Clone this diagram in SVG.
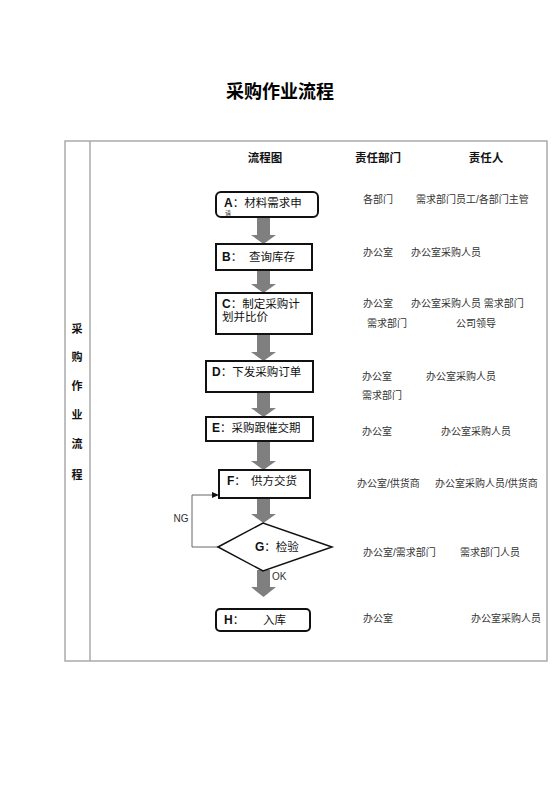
<svg xmlns="http://www.w3.org/2000/svg" width="560" height="792" viewBox="0 0 560 792">
<style>
.t{font-family:"Liberation Sans","Noto Sans CJK SC",sans-serif;}
.title{font-size:18px;font-weight:bold;fill:#000;}
.hd{font-size:11.5px;font-weight:bold;fill:#111;}
.side{font-size:11px;font-weight:bold;fill:#111;}
.bx{font-size:11.5px;fill:#111;}
.bl{font-weight:bold;}
.col{font-size:10px;fill:#333;}
.lbl{font-size:10px;fill:#333;}
.box{fill:#fff;stroke:#111;stroke-width:2;}
.arr{fill:#7f7f7f;}
</style>
<rect width="560" height="792" fill="#fff"/>
<text class="t title" x="280" y="98" text-anchor="middle">采购作业流程</text>
<g id="frame" fill="none" stroke="#aaa" stroke-width="1.5">
<rect x="65" y="141" width="482" height="520"/>
<line x1="90" y1="141" x2="90" y2="661"/>
</g>
<g id="headers">
<text class="t hd" x="265" y="162" text-anchor="middle">流程图</text>
<text class="t hd" x="378" y="162" text-anchor="middle">责任部门</text>
<text class="t hd" x="486" y="162" text-anchor="middle">责任人</text>
</g>
<g id="side" class="t side" text-anchor="middle">
<text x="77" y="333">采</text>
<text x="77" y="361">购</text>
<text x="77" y="390">作</text>
<text x="77" y="419">业</text>
<text x="77" y="448">流</text>
<text x="77" y="479">程</text>
</g>
<g id="connectors">
<path class="arr" d="M257,217 H270 V235 H276 L263.5,244 L251,235 H257 Z"/>
<path class="arr" d="M257,270 H270 V284 H276 L263.5,293 L251,284 H257 Z"/>
<path class="arr" d="M257,334 H270 V352 H276 L263.5,361 L251,352 H257 Z"/>
<path class="arr" d="M257,392 H270 V408 H276 L263.5,417 L251,408 H257 Z"/>
<path class="arr" d="M257,441 H270 V461 H276 L263.5,470 L251,461 H257 Z"/>
<path class="arr" d="M257,498 H270 V514 H276 L263.5,523 L251,514 H257 Z"/>
<path class="arr" d="M257,570 H270 V587 H276 L263.5,597 L251,587 H257 Z"/>
<path d="M218,547 H192 V495 H213" fill="none" stroke="#666" stroke-width="1"/>
<path d="M219,495 L212,492 L212,498 Z" fill="#111"/>
<text class="t lbl" x="181" y="522" text-anchor="middle">NG</text>
<text class="t lbl" x="272" y="580">OK</text>
</g>
<g id="nodeA">
<rect class="box" x="216" y="192" width="102" height="25" rx="5"/>
<text class="t bx" x="224" y="207"><tspan class="bl" font-size="12">A</tspan>：材料需求申</text>
<text class="t" x="225" y="215" font-size="6" fill="#111">请</text>
</g>
<g id="nodeB">
<rect class="box" x="216" y="244" width="96" height="26"/>
<text class="t bx" x="222" y="261"><tspan class="bl" font-size="12">B</tspan>：</text>
<text class="t bx" x="249" y="261">查询库存</text>
</g>
<g id="nodeC">
<rect class="box" x="216" y="293" width="96" height="41"/>
<text class="t bx" x="222" y="308"><tspan class="bl" font-size="12">C</tspan>：制定采购计</text>
<text class="t bx" x="222" y="321">划并比价</text>
</g>
<g id="nodeD">
<rect class="box" x="206" y="361" width="107" height="31"/>
<text class="t bx" x="212" y="376"><tspan class="bl" font-size="12">D</tspan>：下发采购订单</text>
</g>
<g id="nodeE">
<rect class="box" x="206" y="417" width="107" height="24"/>
<text class="t bx" x="212" y="432"><tspan class="bl" font-size="12">E</tspan>：采购跟催交期</text>
</g>
<g id="nodeF">
<rect class="box" x="219" y="470" width="91" height="28"/>
<text class="t bx" x="227" y="485"><tspan class="bl" font-size="12">F</tspan>：</text>
<text class="t bx" x="251" y="485">供方交货</text>
</g>
<g id="nodeG">
<polygon points="218,547 263,523 332,547 263,571" fill="#fff" stroke="#111" stroke-width="1.5"/>
<text class="t bx" x="255" y="551"><tspan class="bl" font-size="12">G</tspan>：检验</text>
</g>
<g id="nodeH">
<rect class="box" x="216" y="609" width="94" height="22" rx="4"/>
<text class="t bx" x="224" y="624"><tspan class="bl" font-size="12">H</tspan>：</text>
<text class="t bx" x="263" y="624">入库</text>
</g>
<g id="columns" class="t col">
<text x="363" y="203">各部门</text>
<text x="416" y="203">需求部门员工/各部门主管</text>
<text x="363" y="256">办公室</text>
<text x="411" y="256">办公室采购人员</text>
<text x="363" y="307">办公室</text>
<text x="411" y="307">办公室采购人员 需求部门</text>
<text x="367" y="327">需求部门</text>
<text x="456" y="327">公司领导</text>
<text x="362" y="380">办公室</text>
<text x="426" y="380">办公室采购人员</text>
<text x="362" y="399">需求部门</text>
<text x="362" y="435">办公室</text>
<text x="441" y="435">办公室采购人员</text>
<text x="357" y="487">办公室/供货商</text>
<text x="435" y="487">办公室采购人员/供货商</text>
<text x="363" y="556">办公室/需求部门</text>
<text x="460" y="556">需求部门人员</text>
<text x="363" y="622">办公室</text>
<text x="471" y="622">办公室采购人员</text>
</g>
</svg>
